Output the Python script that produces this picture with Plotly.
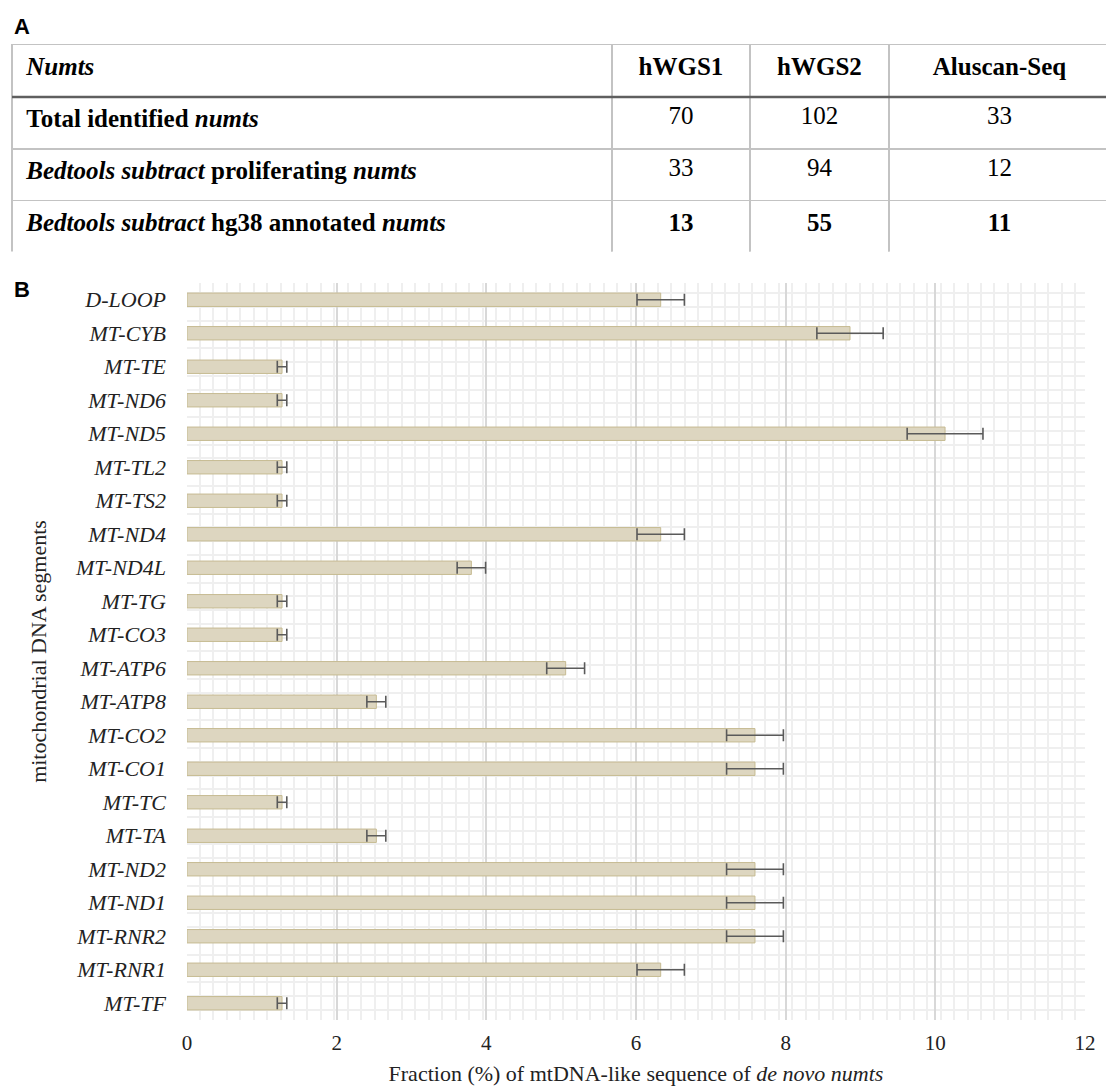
import plotly.graph_objects as go

# ---------------- Panel A: numts summary table ----------------
table_header = ["<i>Numts</i>", "hWGS1", "hWGS2", "Aluscan-Seq"]
row_labels = [
    "Total identified <i>numts</i>",
    "<i>Bedtools subtract</i> proliferating <i>numts</i>",
    "<i>Bedtools subtract</i> hg38 annotated <i>numts</i>",
]
hwgs1_counts = [70, 33, 13]
hwgs2_counts = [102, 94, 55]
aluscan_counts = [33, 12, 11]

# ---------------- Panel B: mtDNA segment fractions ----------------
segments = [
    "D-LOOP", "MT-CYB", "MT-TE", "MT-ND6", "MT-ND5", "MT-TL2", "MT-TS2",
    "MT-ND4", "MT-ND4L", "MT-TG", "MT-CO3", "MT-ATP6", "MT-ATP8", "MT-CO2",
    "MT-CO1", "MT-TC", "MT-TA", "MT-ND2", "MT-ND1", "MT-RNR2", "MT-RNR1", "MT-TF",
]
fraction_pct = [
    6.33, 8.86, 1.27, 1.27, 10.13, 1.27, 1.27,
    6.33, 3.80, 1.27, 1.27, 5.06, 2.53, 7.59,
    7.59, 1.27, 2.53, 7.59, 7.59, 7.59, 6.33, 1.27,
]
error_percent = 5
x_tick_values = [0, 2, 4, 6, 8, 10, 12]

SERIF = "Liberation Serif"
SANS = "Liberation Sans"
W, H = 1110, 1086


def fx(px):
    return px / W


def fy(py):
    return 1 - py / H


# last row of the table is set in bold
def cell_text(values):
    return [f"<b>{v}</b>" if i == len(values) - 1 else str(v) for i, v in enumerate(values)]


fig = go.Figure()

fig.add_trace(go.Table(
    domain=dict(x=[fx(12), 1.0], y=[fy(252), fy(44.5)]),
    columnwidth=[600, 138, 139, 221],
    header=dict(
        values=[("\u00a0" if i == 0 else "") + f"<b>{h}</b>" for i, h in enumerate(table_header)],
        align=["left", "center", "center", "center"],
        font=dict(family=SERIF, size=25, color="black"),
        fill=dict(color="white"),
        line=dict(color="#c3c3c3", width=1.5),
        height=52.5,
    ),
    cells=dict(
        values=[
            ["\u00a0" + f"<b>{r}</b>" for r in row_labels],
            cell_text(hwgs1_counts),
            cell_text(hwgs2_counts),
            cell_text(aluscan_counts),
        ],
        align=["left", "center", "center", "center"],
        font=dict(family=SERIF, size=25, color="black"),
        fill=dict(color="white"),
        line=dict(color="#c3c3c3", width=1.5),
        height=51.8,
    ),
))

fig.add_trace(go.Bar(
    x=fraction_pct,
    y=list(range(len(segments))),
    orientation="h",
    width=0.4,
    marker=dict(color="#ddd6c0", line=dict(color="#c6bb92", width=1)),
    error_x=dict(type="percent", value=error_percent, color="#5a5a5a",
                 thickness=1.6, width=6),
    showlegend=False,
    hoverinfo="skip",
))

# dark rule under the table header
fig.add_shape(type="line", xref="paper", yref="paper",
              x0=fx(12), x1=1.0, y0=fy(97), y1=fy(97),
              line=dict(color="#5f5f5f", width=2.5))
# table continues past the right edge: no closing border
fig.add_shape(type="rect", xref="paper", yref="paper",
              x0=fx(1106), x1=1.0, y0=fy(254), y1=fy(43),
              line=dict(width=0), fillcolor="white")

# panel letters
for letter, ypx in (("A", 26), ("B", 289.5)):
    fig.add_annotation(text=f"<b>{letter}</b>", xref="paper", yref="paper",
                       x=fx(12), y=fy(ypx), xanchor="left", yanchor="middle",
                       showarrow=False, font=dict(family=SANS, size=22, color="black"))

fig.update_layout(
    width=W, height=H,
    margin=dict(l=0, r=0, t=0, b=0, autoexpand=False),
    font=dict(family=SERIF),
    paper_bgcolor="white",
    plot_bgcolor="white",
    xaxis=dict(
        domain=[fx(187), fx(1085)],
        range=[0, 12],
        automargin=False,
        tickmode="array", tickvals=x_tick_values,
        showgrid=True, gridcolor="#d8d8d8", gridwidth=1.5,
        zeroline=False, showline=False, ticks="",
        tickfont=dict(family=SERIF, size=21, color="#222"),
        ticklabelstandoff=8,
        title=dict(text="Fraction (%) of mtDNA-like sequence of <i>de novo numts</i>",
                   font=dict(family=SERIF, size=22, color="#222"), standoff=12),
        minor=dict(dtick=0.18, tick0=0.17, showgrid=True,
                   gridcolor="#efefef", gridwidth=2),
    ),
    yaxis=dict(
        domain=[fy(1020), fy(283)],
        range=[len(segments) - 0.5, -0.5],
        automargin=False,
        tickmode="array",
        tickvals=list(range(len(segments))),
        ticktext=[f"<i>{s}</i>" for s in segments],
        showgrid=False, zeroline=False, showline=False, ticks="",
        tickfont=dict(family=SERIF, size=22, color="#222"),
        ticklabelstandoff=20,
        title=dict(text="mitochondrial DNA segments",
                   font=dict(family=SERIF, size=22, color="#222"), standoff=22),
        minor=dict(dtick=0.4115, tick0=-0.2, showgrid=True,
                   gridcolor="#efefef", gridwidth=2),
    ),
)

fig.write_html("out.html")
